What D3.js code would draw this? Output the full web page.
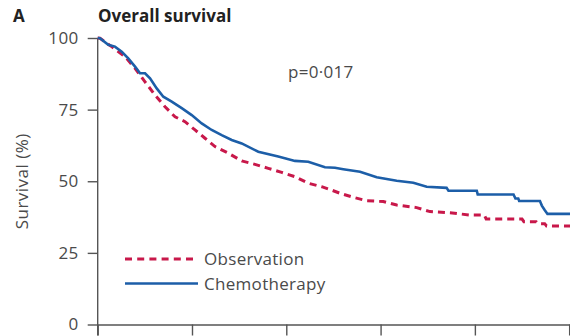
<!DOCTYPE html>
<html>
<head>
<meta charset="utf-8">
<script src="https://cdn.jsdelivr.net/npm/d3@7/dist/d3.min.js"></script>
<style>
  html, body { margin: 0; padding: 0; background: #fff; }
  svg { display: block; }
  text { font-family: "Open Sans", "Noto Sans", sans-serif; }
</style>
</head>
<body>
<svg id="chart" width="570" height="336"></svg>
<script>
// Kaplan-Meier overall survival, time in years, survival in %
const obsTime = [0, 0.024, 0.148, 0.290, 0.396, 0.502, 0.608, 0.714, 0.820, 0.926, 1.032, 1.138, 1.244, 1.385, 1.527, 1.668, 1.809, 1.951, 2.092, 2.233, 2.375, 2.481, 2.569, 2.711, 2.853, 3.029, 3.171, 3.383, 3.524, 3.736, 3.948, 4.10, 4.12, 4.50, 4.52, 4.65, 4.67, 4.74, 4.76, 5.01];
const obsSurv = [100, 99.9, 97.0, 93.5, 89.4, 84.7, 80.1, 76.0, 72.5, 70.8, 67.9, 65.0, 62.1, 59.8, 57.1, 55.9, 54.5, 53.1, 51.6, 49.3, 48.1, 46.9, 45.8, 44.4, 43.2, 42.9, 41.7, 40.8, 39.4, 39.0, 38.2, 38.2, 36.8, 36.8, 35.9, 35.9, 35.2, 35.2, 34.4, 34.4];

const chemoTime = [0, 0.024, 0.112, 0.183, 0.255, 0.324, 0.396, 0.449, 0.502, 0.555, 0.626, 0.696, 0.785, 0.891, 0.997, 1.103, 1.209, 1.315, 1.421, 1.527, 1.703, 1.915, 2.092, 2.233, 2.410, 2.516, 2.604, 2.782, 2.959, 3.171, 3.347, 3.489, 3.70, 3.72, 4.02, 4.03, 4.41, 4.43, 4.46, 4.47, 4.69, 4.71, 4.74, 4.77, 5.01];
const chemoSurv = [100, 99.9, 97.6, 97.0, 95.2, 92.9, 90.0, 87.7, 87.7, 85.9, 82.4, 79.5, 77.8, 75.5, 73.1, 70.2, 67.9, 66.1, 64.4, 63.2, 60.3, 58.6, 57.1, 56.8, 54.9, 54.7, 54.2, 53.3, 51.4, 50.2, 49.5, 48.1, 47.7, 46.7, 46.7, 45.4, 45.4, 44.0, 44.0, 43.1, 43.1, 41.5, 40.0, 38.6, 38.6];

// yearly ticks along the time axis (their labels sit below the drawn area)
const xTicks = [0, 1, 2, 3, 4, 5];
const yTicks = [0, 25, 50, 75, 100];

const seriesNames = ["Observation", "Chemotherapy"];
const seriesColors = ["#c8184a", "#1c5ea8"];

const svg = d3.select("#chart");
const inkGrey = "#555";
const textGrey = "#4a4a4a";

const x = d3.scaleLinear().domain([0, 5.03]).range([97.7, 572]);
const y = d3.scaleLinear().domain([0, 100]).range([324.5, 38]);

// Axes
const yAxis = svg.append("g")
  .attr("transform", `translate(${x(0)},0)`)
  .call(d3.axisLeft(y).tickValues(yTicks).tickSize(10).tickPadding(9).tickSizeOuter(0));
const xAxis = svg.append("g")
  .attr("transform", `translate(0,${y(0)})`)
  .call(d3.axisBottom(x).tickValues(xTicks).tickFormat(() => "").tickSize(11).tickSizeOuter(0));

[yAxis, xAxis].forEach(g => {
  g.select(".domain").attr("stroke", inkGrey).attr("stroke-width", 1.4);
  g.selectAll(".tick line").attr("stroke", inkGrey).attr("stroke-width", 1.4);
  g.selectAll(".tick text")
    .attr("fill", textGrey)
    .style("font-size", "17px")
    .style("letter-spacing", "0.4px")
    .style("font-family", "'Open Sans', sans-serif");
});
xAxis.selectAll(".tick text").remove();
// y axis line runs a little past the origin
yAxis.select(".domain").attr("d", `M0,${y(100)}V${y(0) + 11}`);

// Curves
const line = d3.line().x(d => x(d[0])).y(d => y(d[1])).curve(d3.curveLinear);
const obs = obsTime.map((t, i) => [t, obsSurv[i]]);
const chemo = chemoTime.map((t, i) => [t, chemoSurv[i]]);

svg.append("path")
  .attr("d", line(obs))
  .attr("fill", "none")
  .attr("stroke", seriesColors[0])
  .attr("stroke-width", 3)
  .attr("stroke-dasharray", "7,5");

svg.append("path")
  .attr("d", line(chemo))
  .attr("fill", "none")
  .attr("stroke", seriesColors[1])
  .attr("stroke-width", 2.6);

// Titles
svg.append("text").attr("x", 13).attr("y", 22)
  .attr("fill", "#222").style("font-weight", "700").style("font-size", "17px").text("A");
svg.append("text").attr("x", 98).attr("y", 22)
  .attr("fill", "#222").style("font-weight", "700").style("font-size", "17px").text("Overall survival");

svg.append("text")
  .attr("transform", `translate(28,${y(50)}) rotate(-90)`)
  .attr("text-anchor", "middle")
  .attr("fill", textGrey).style("font-size", "17px").style("letter-spacing", "0.5px")
  .text("Survival (%)");

svg.append("text").attr("x", 288).attr("y", 78)
  .attr("fill", textGrey).style("font-size", "17px").style("letter-spacing", "0.3px")
  .text("p=0\u00B7017");

// Legend
const legend = svg.append("g");
[0, 1].forEach(i => {
  const ly = 259 + i * 24.5;
  legend.append("line")
    .attr("x1", 125).attr("x2", 198).attr("y1", ly).attr("y2", ly)
    .attr("stroke", seriesColors[i])
    .attr("stroke-width", i === 0 ? 3 : 2.6)
    .attr("stroke-dasharray", i === 0 ? "7,5.2" : null);
  legend.append("text")
    .attr("x", 204).attr("y", ly + 6)
    .attr("fill", textGrey).style("font-size", "17px").style("letter-spacing", "0.3px")
    .text(seriesNames[i]);
});
</script>
</body>
</html>
